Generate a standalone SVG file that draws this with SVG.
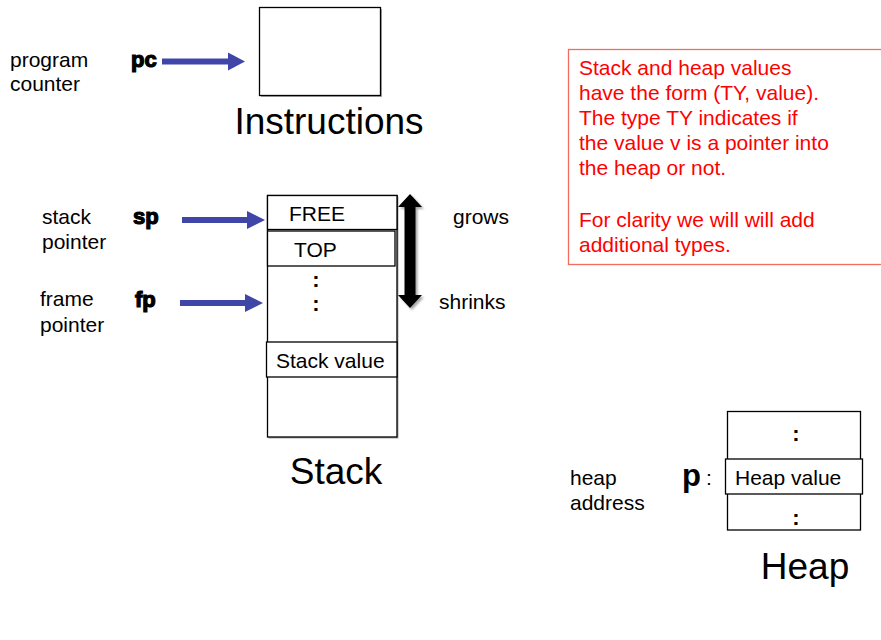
<svg xmlns="http://www.w3.org/2000/svg" width="881" height="640" viewBox="0 0 881 640">
  <style>
    text { font-family: "Liberation Sans", Arial, sans-serif; fill: #000; }
    .lbl { font-size: 21px; }
    .title { font-size: 37px; }
    .reg { font-size: 22px; font-weight: bold; stroke: #000; stroke-width: 1.2px; }
    .note { font-size: 21px; fill: #ff0000; }
    .box { fill: #fff; stroke: #000; stroke-width: 1.3; }
    .shadow { fill: #aaa; }
    .ptr { stroke: #4046a8; stroke-width: 6; fill: none; }
    .ptrhead { fill: #4046a8; }
    .dot { font-size: 22px; font-weight: bold; }
  </style>
  <defs>
    <filter id="softShadow" x="-50%" y="-20%" width="200%" height="140%">
      <feGaussianBlur in="SourceAlpha" stdDeviation="1.2"/>
      <feOffset dx="1.5" dy="2" result="b"/>
      <feComponentTransfer><feFuncA type="linear" slope="0.35"/></feComponentTransfer>
      <feMerge><feMergeNode/><feMergeNode in="SourceGraphic"/></feMerge>
    </filter>
  </defs>
  <rect width="881" height="640" fill="#fff"/>

  <!-- Instructions memory -->
  <g id="instructions">
    <rect class="shadow" x="261" y="9" width="121" height="88"/>
    <rect class="box" x="259.5" y="7.5" width="121" height="88"/>
    <text class="title" x="329" y="134" text-anchor="middle">Instructions</text>
  </g>

  <!-- program counter register -->
  <g id="pc">
    <text class="lbl" x="10" y="67">program</text>
    <text class="lbl" x="10" y="91">counter</text>
    <text class="reg" x="131" y="67">pc</text>
  </g>

  <!-- Stack memory -->
  <g id="stack">
    <rect class="shadow" x="268.5" y="196.5" width="130" height="242"/>
    <rect class="box" x="267.5" y="195.5" width="129.5" height="241.5"/>
    <rect class="box" x="267.5" y="195.5" width="129.5" height="34"/>
    <text class="lbl" x="289" y="221">FREE</text>
    <rect class="box" x="267.5" y="231" width="127.5" height="35"/>
    <text class="lbl" x="294" y="257">TOP</text>
    <text class="dot" x="316" y="287" text-anchor="middle">:</text>
    <text class="dot" x="316" y="311" text-anchor="middle">:</text>
    <rect class="box" x="266.5" y="342" width="130.5" height="35"/>
    <text class="lbl" x="276" y="368">Stack value</text>
    <text class="title" x="336" y="484" text-anchor="middle">Stack</text>
  </g>

  <!-- stack pointer register -->
  <g id="sp">
    <text class="lbl" x="42" y="224">stack</text>
    <text class="lbl" x="42" y="249">pointer</text>
    <text class="reg" x="133" y="224">sp</text>
  </g>

  <!-- frame pointer register -->
  <g id="fp">
    <text class="lbl" x="40" y="306">frame</text>
    <text class="lbl" x="40" y="332">pointer</text>
    <text class="reg" x="135" y="307">fp</text>
  </g>

  <!-- grows / shrinks indicator -->
  <g id="growth">
    <text class="lbl" x="453" y="224">grows</text>
    <text class="lbl" x="439" y="309">shrinks</text>
  </g>

  <!-- Heap memory -->
  <g id="heap">
    <rect class="box" x="727.5" y="411.5" width="133" height="118.5"/>
    <text class="dot" x="796" y="441" text-anchor="middle">:</text>
    <rect class="box" x="725.5" y="459" width="137" height="35"/>
    <text class="lbl" x="735" y="485">Heap value</text>
    <text class="dot" x="796" y="525" text-anchor="middle">:</text>
    <text class="lbl" x="570" y="485">heap</text>
    <text class="lbl" x="570" y="510">address</text>
    <text x="682" y="486" style="font-size:31px;font-weight:bold">p</text>
    <text class="lbl" x="706" y="485">:</text>
    <text class="title" x="805" y="579" text-anchor="middle">Heap</text>
  </g>

  <!-- Note on value types -->
  <g id="note">
    <rect x="568.5" y="49.5" width="330" height="215" fill="#fff" stroke="#f26d5c" stroke-width="1.3"/>
    <text class="note" x="579" y="75">Stack and heap values</text>
    <text class="note" x="579" y="100">have the form (TY, value).</text>
    <text class="note" x="579" y="125">The type TY indicates if</text>
    <text class="note" x="579" y="150">the value v is a pointer into</text>
    <text class="note" x="579" y="175">the heap or not.</text>
    <text class="note" x="579" y="227">For clarity we will will add</text>
    <text class="note" x="579" y="252">additional types.</text>
  </g>

  <!-- Connectors -->
  <g id="connectors">
    <line class="ptr" x1="162" y1="61.5" x2="230" y2="61.5"/>
    <polygon class="ptrhead" points="228,52.5 245,61.5 228,70.5"/>
    <line class="ptr" x1="182" y1="220" x2="249" y2="220"/>
    <polygon class="ptrhead" points="247,211 265,220 247,229"/>
    <line class="ptr" x1="180" y1="303" x2="247" y2="303"/>
    <polygon class="ptrhead" points="245,294 263,303 245,312"/>
    <path filter="url(#softShadow)" fill="#000" d="M410,194 L422,207 L415.5,207 L415.5,295 L422,295 L410,308 L398,295 L404.5,295 L404.5,207 L398,207 Z"/>
  </g>
</svg>
